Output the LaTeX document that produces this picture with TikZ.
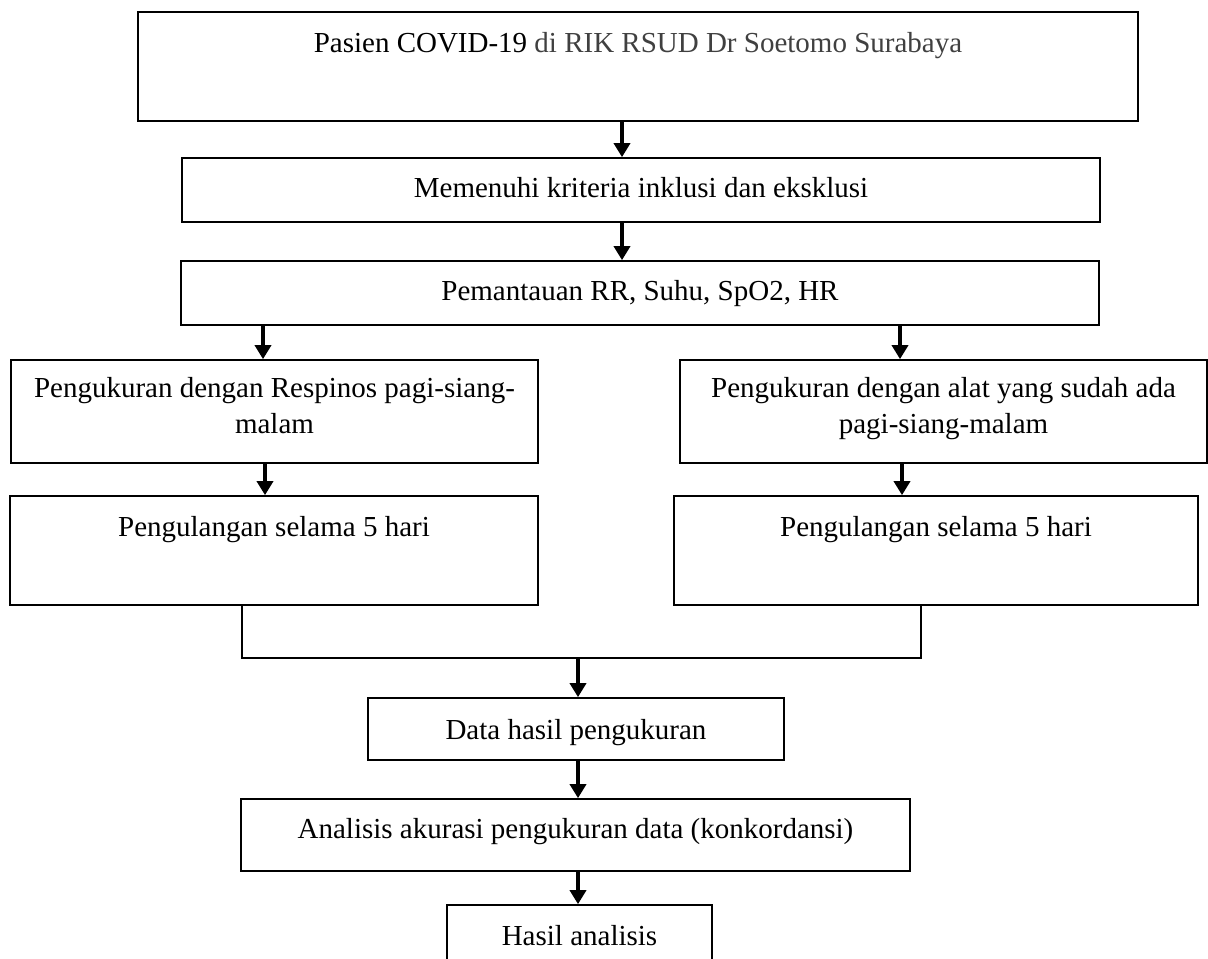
\documentclass[tikz,border=0pt]{standalone}
\usepackage{fontspec}
\setmainfont{Liberation Serif}
\usetikzlibrary{arrows.meta}
\begin{document}
\begin{tikzpicture}[x=0.5pt,y=-0.5pt,
  box/.style={draw=black, line width=0.85pt, rectangle, inner sep=0pt},
  txt/.style={inner sep=0pt, font=\fontsize{14.5pt}{18pt}\selectfont, align=center},
  arr/.style={line width=2pt, -{Triangle[width=8pt,length=7pt]}},
  joinline/.style={line width=0.7pt}]
\useasboundingbox (0,0) rectangle (1208,958);
\clip (0,0) rectangle (1208,958);

% boxes
\node[box, minimum width=500pt, minimum height=54.5pt] (b1) at (638,66.5) {};
\node[box, minimum width=459pt, minimum height=32pt] (b2) at (641,190) {};
\node[box, minimum width=459pt, minimum height=32pt] (b3) at (640,293) {};
\node[box, minimum width=263.5pt, minimum height=51.5pt] (b4l) at (274.5,411.5) {};
\node[box, minimum width=263.5pt, minimum height=51.5pt] (b4r) at (943.5,411.5) {};
\node[box, minimum width=264pt, minimum height=54.5pt] (b5l) at (274,550.5) {};
\node[box, minimum width=262pt, minimum height=54.5pt] (b5r) at (936,550.5) {};
\node[box, minimum width=208pt, minimum height=31pt] (b6) at (576,729) {};
\node[box, minimum width=334.5pt, minimum height=36pt] (b7) at (575.5,835) {};
\node[box, minimum width=132.5pt, minimum height=37.5pt] (b8) at (579.5,942.5) {};

% texts
\node[txt, anchor=base] (t1) at (638,52) {Pasien COVID-19 {\color{black!75}di RIK RSUD Dr Soetomo Surabaya}};
\node[txt, anchor=base] (t2) at (641,197) {Memenuhi kriteria inklusi dan eksklusi};
\node[txt, anchor=base] (t3) at (640,300) {Pemantauan RR, Suhu, SpO2, HR};
\node[txt] (t4l) at (274.5,408) {\strut Pengukuran dengan Respinos pagi-siang-\\malam\strut};
\node[txt] (t4r) at (943.5,408) {\strut Pengukuran dengan alat yang sudah ada\\pagi-siang-malam\strut};
\node[txt, anchor=base] (t5l) at (274,536) {Pengulangan selama 5 hari};
\node[txt, anchor=base] (t5r) at (936,536) {Pengulangan selama 5 hari};
\node[txt, anchor=base] (t6) at (576,739) {Data hasil pengukuran};
\node[txt, anchor=base] (t7) at (575.5,838) {Analisis akurasi pengukuran data (konkordansi)};
\node[txt, anchor=base] (t8) at (579.5,945) {Hasil analisis};

% connector x positions
\coordinate (xa) at (622,0);
\coordinate (xl1) at (263,0);
\coordinate (xr1) at (900,0);
\coordinate (xl2) at (265,0);
\coordinate (xr2) at (902,0);
\coordinate (jl) at (242,658);
\coordinate (jr) at (921,658);
\coordinate (jm) at (578,658);

% connectors
\draw[arr] (b1.south -| xa) -- (b2.north -| xa);
\draw[arr] (b2.south -| xa) -- (b3.north -| xa);
\draw[arr] (b3.south -| xl1) -- (b4l.north -| xl1);
\draw[arr] (b3.south -| xr1) -- (b4r.north -| xr1);
\draw[arr] (b4l.south -| xl2) -- (b5l.north -| xl2);
\draw[arr] (b4r.south -| xr2) -- (b5r.north -| xr2);
\draw[joinline] (b5l.south -| jl) -- (jl) -- (jr) -- (b5r.south -| jr);
\draw[arr] (jm) -- (b6.north -| jm);
\draw[arr] (b6.south -| jm) -- (b7.north -| jm);
\draw[arr] (b7.south -| jm) -- (b8.north -| jm);
\end{tikzpicture}
\end{document}
